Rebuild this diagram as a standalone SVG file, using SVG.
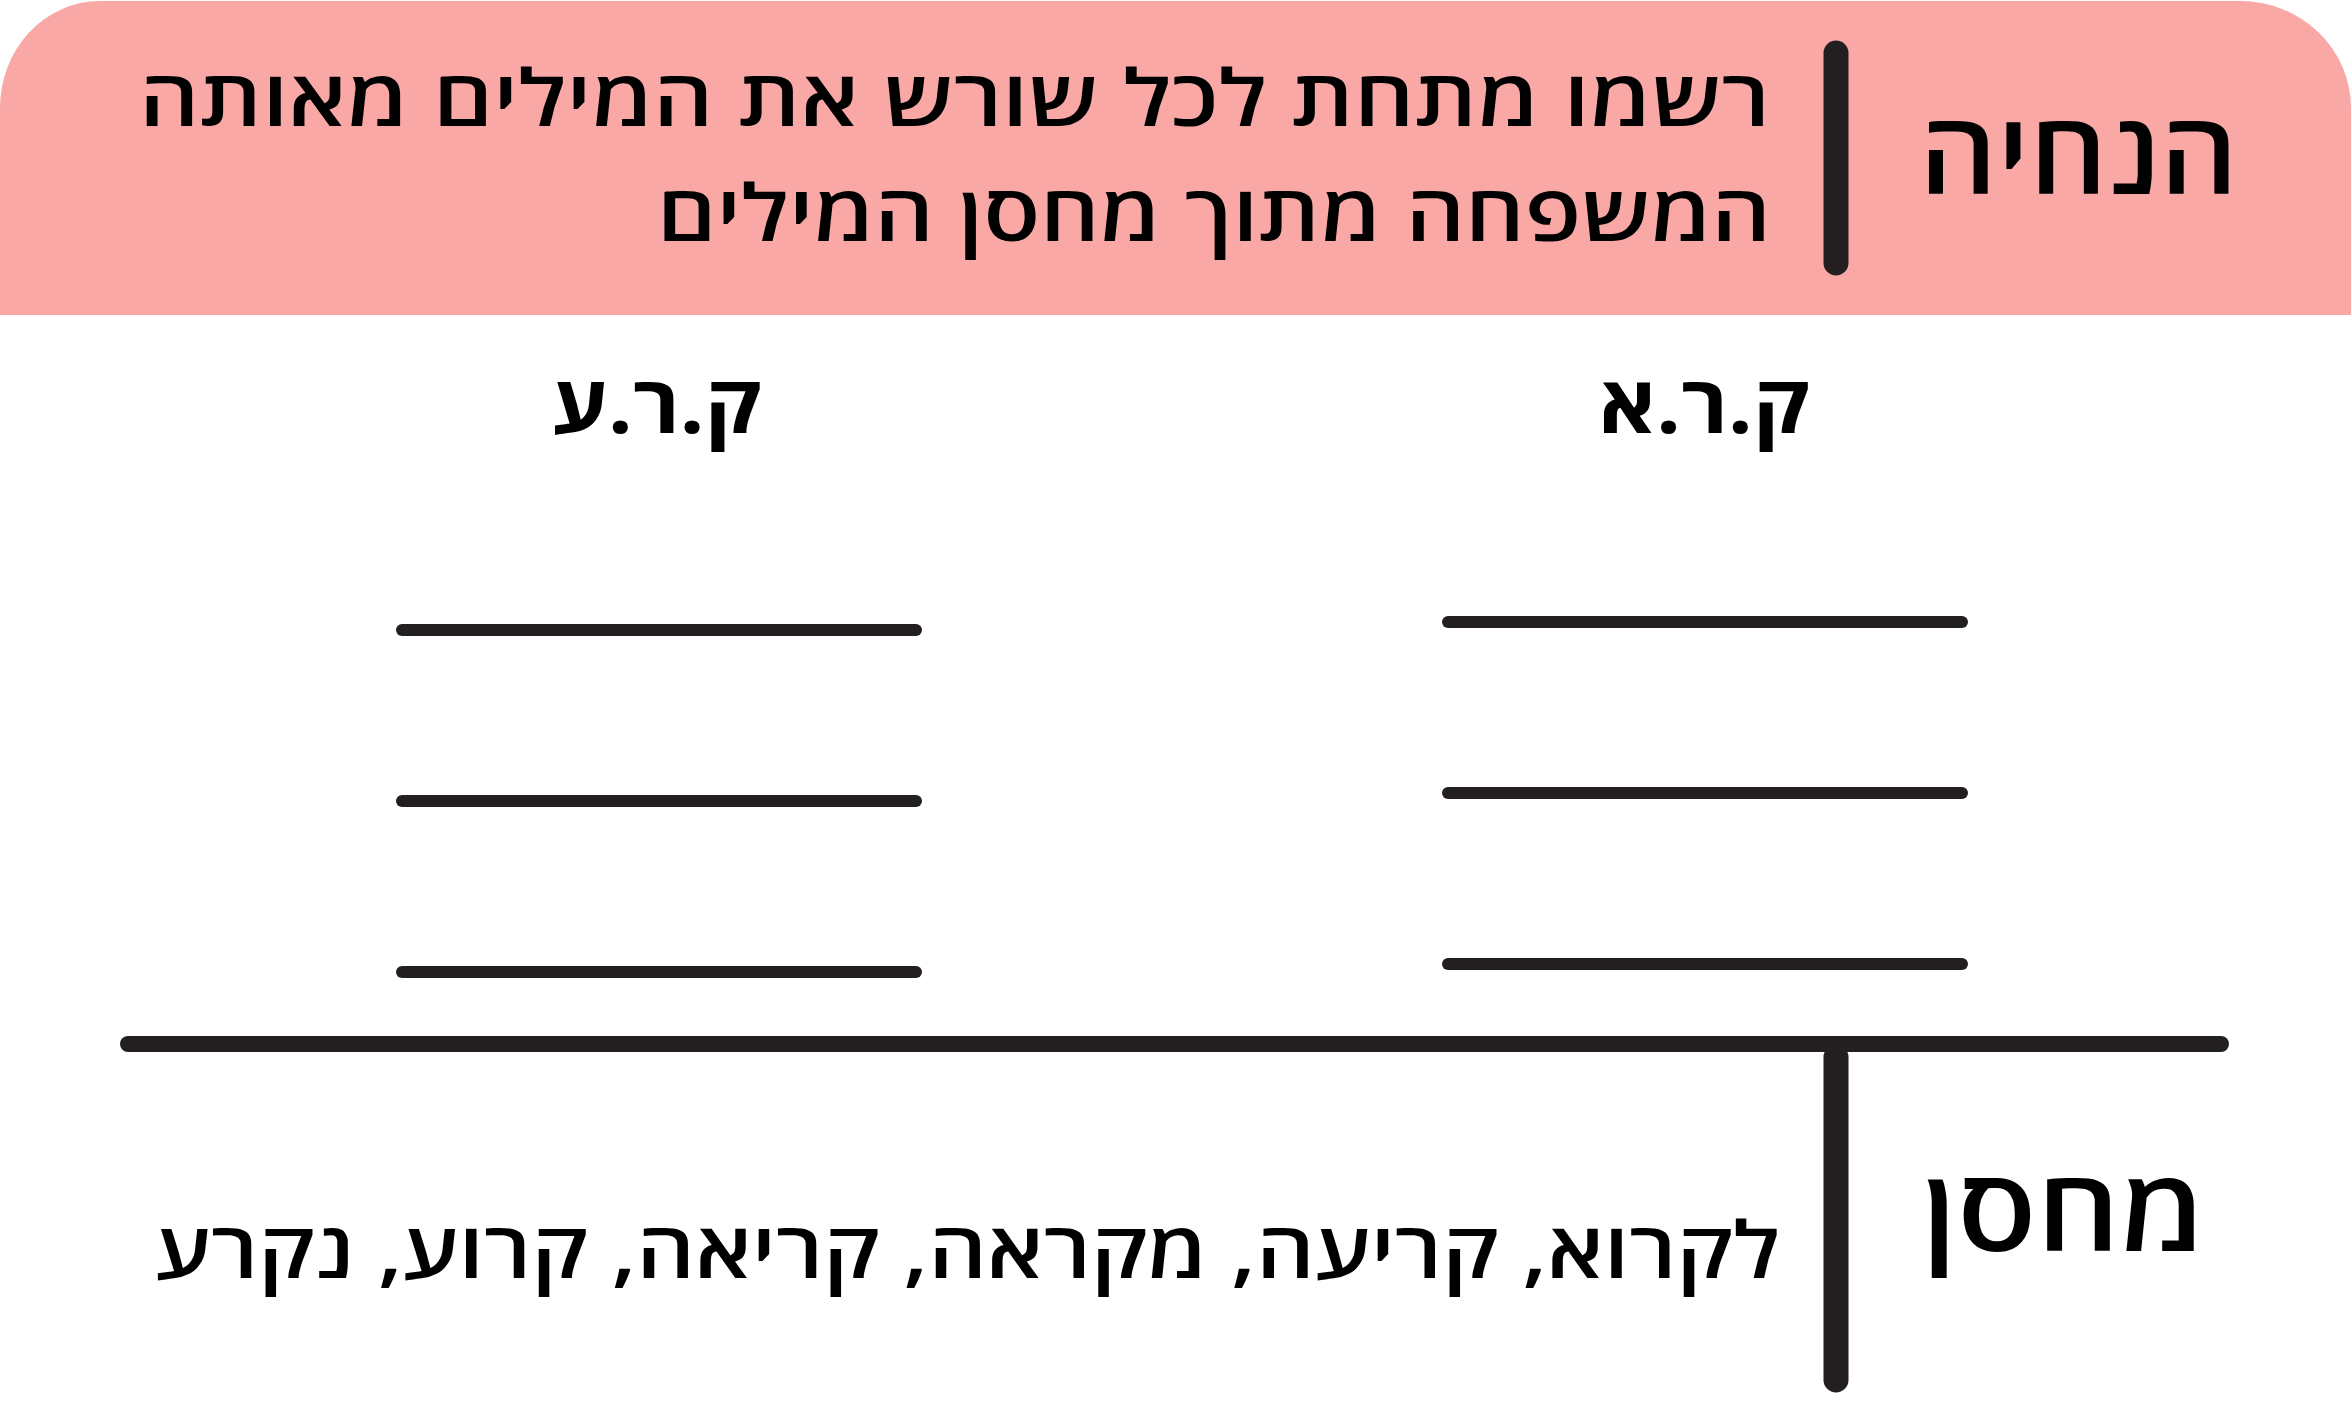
<svg xmlns="http://www.w3.org/2000/svg" width="2351" height="1418" viewBox="0 0 2351 1418">
<style>
.t{font-family:"Open Sans","DejaVu Sans","Liberation Sans",sans-serif;fill:#000;}
.body{font-size:78px;font-weight:600;}
.big{font-size:114px;font-weight:600;}
.lbl{font-size:80px;font-weight:bold;}
.ln{stroke:#231f20;stroke-width:12;stroke-linecap:round;fill:none;}
.bar{stroke:#231f20;stroke-width:25;stroke-linecap:round;fill:none;}
</style>
<rect width="2351" height="1418" fill="#fff"/>
<g id="header">
<path d="M0,315 L0,108 A100,107 0 0 1 100,1 L2240,1 A111,107 0 0 1 2351,108 L2351,315 Z" fill="#f9a8a6"/>
<line class="bar" x1="1836" y1="53" x2="1836" y2="263"/>
<text class="t big" x="1919" y="194" textLength="319" lengthAdjust="spacingAndGlyphs">הנחיה</text>
<text class="t body" x="139" y="126" textLength="1631" lengthAdjust="spacingAndGlyphs">רשמו מתחת לכל שורש את המילים מאותה</text>
<text class="t body" x="657" y="241" textLength="1114" lengthAdjust="spacingAndGlyphs">המשפחה מתוך מחסן המילים</text>
</g>
<g id="root-kra">
<text class="t lbl" x="1599" y="433" textLength="210" lengthAdjust="spacingAndGlyphs">ק.ר.א</text>
<line class="ln" x1="1448" y1="622" x2="1962" y2="622"/>
<line class="ln" x1="1448" y1="793" x2="1962" y2="793"/>
<line class="ln" x1="1448" y1="964" x2="1962" y2="964"/>
</g>
<g id="root-kre">
<text class="t lbl" x="552" y="433" textLength="209" lengthAdjust="spacingAndGlyphs">ק.ר.ע</text>
<line class="ln" x1="402" y1="630" x2="916" y2="630"/>
<line class="ln" x1="402" y1="801" x2="916" y2="801"/>
<line class="ln" x1="402" y1="972" x2="916" y2="972"/>
</g>
<g id="connectors">
<line stroke="#231f20" stroke-width="16" stroke-linecap="round" x1="128" y1="1044" x2="2221" y2="1044"/>
<line class="bar" x1="1836" y1="1057" x2="1836" y2="1380"/>
</g>
<g id="store">
<text class="t big" x="1922" y="1251" textLength="283" lengthAdjust="spacingAndGlyphs">מחסן</text>
<text class="t body" x="155" y="1278" textLength="1625" lengthAdjust="spacingAndGlyphs">לקרוא, קריעה, מקראה, קריאה, קרוע, נקרע</text>
</g>
</svg>
